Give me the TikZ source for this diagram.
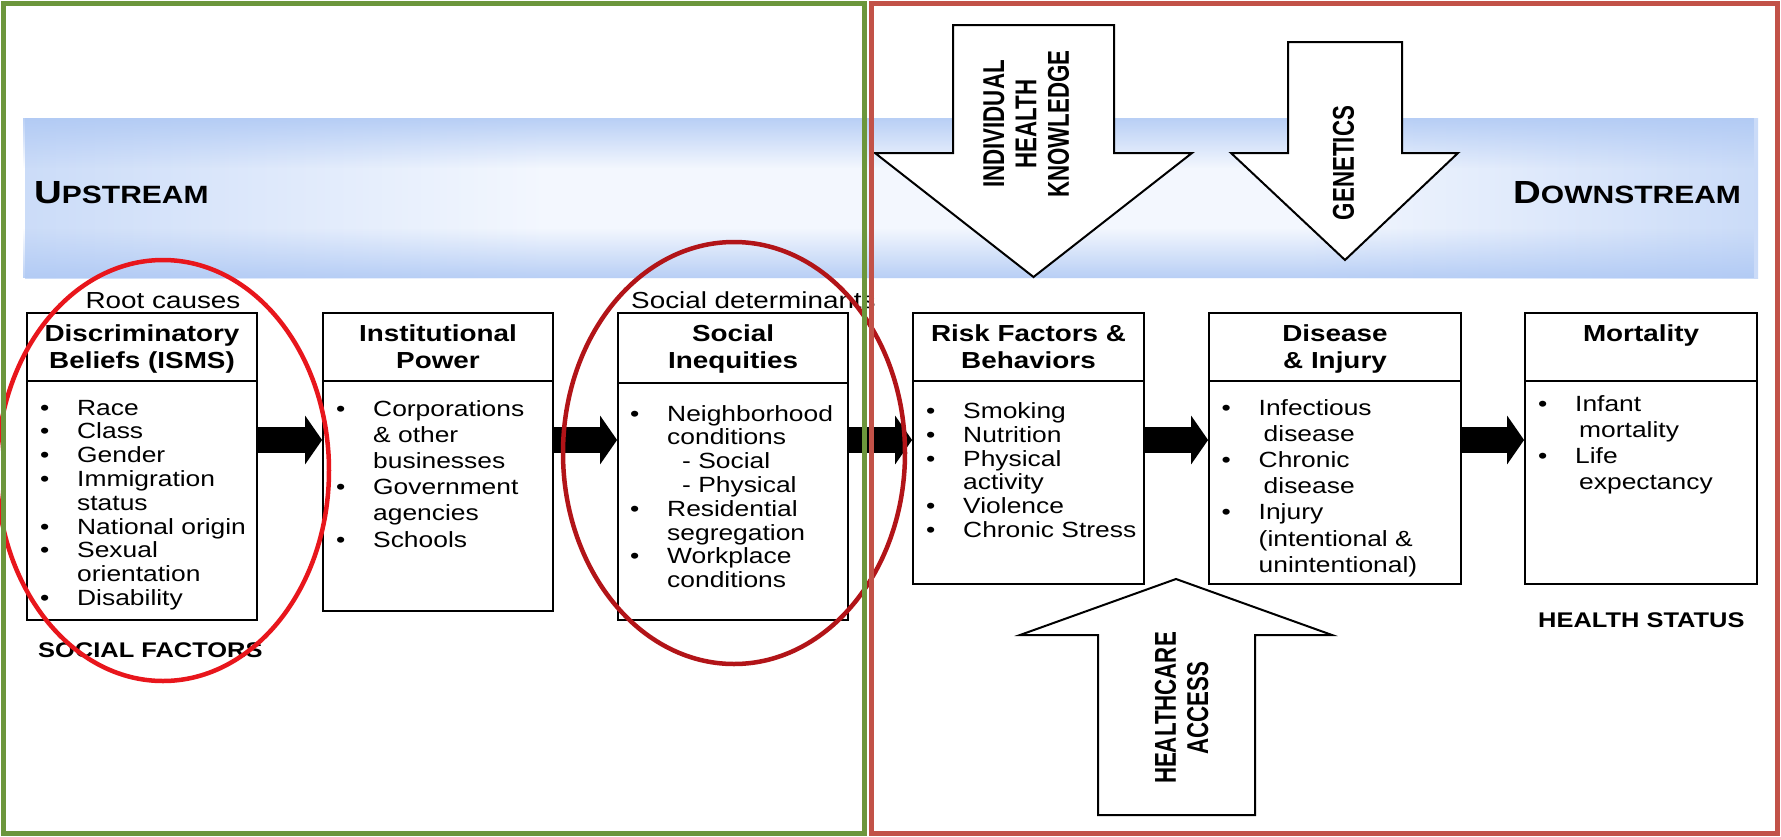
\documentclass[tikz,border=0pt]{standalone}
\usepackage{fontspec}
\setmainfont{Liberation Sans}[FakeStretch=1.2]
\newfontfamily\rotfont{Liberation Sans}
\usetikzlibrary{arrows.meta,fadings}
\definecolor{bandblue}{RGB}{174,200,244}
\definecolor{bandlight}{RGB}{243,247,254}
\definecolor{framegreen}{RGB}{108,150,60}
\definecolor{framered}{RGB}{194,82,72}
\definecolor{ringred}{RGB}{232,22,28}
\definecolor{ringdark}{RGB}{178,20,24}
\pgfdeclarehorizontalshading{bandh}{100bp}{color(0bp)=(bandblue); color(14bp)=(bandblue); color(40bp)=(bandlight); color(62bp)=(bandlight); color(84bp)=(bandblue); color(100bp)=(bandblue)}
\newcommand\bl{\makebox[37pt][l]{\textbullet}}
\newcommand\ind{\hspace*{37pt}}
\begin{document}
\begin{tikzpicture}[x=1pt,y=-1pt,
  box/.style={draw=black, line width=1.8pt, fill=white, inner sep=0pt},
  divline/.style={draw=black, line width=1.8pt},
  hdr/.style={font=\bfseries\fontsize{23.2}{27}\selectfont, inner sep=0pt, anchor=base},
  bodyA/.style={font=\fontsize{22}{23.8}\selectfont, inner sep=0pt, anchor=base west},
  bodyB/.style={font=\fontsize{22}{26.2}\selectfont, inner sep=0pt, anchor=base west},
  lbl/.style={font=\fontsize{23.2}{27}\selectfont, inner sep=0pt},
  captext/.style={font=\bfseries\fontsize{21.2}{24}\selectfont, inner sep=0pt, anchor=base west},
  rotlbl/.style={font=\rotfont\bfseries\fontsize{22.3}{24}\selectfont, inner sep=0pt, rotate=90},
  flow/.style={line width=26pt, -{Triangle[length=17pt,width=48pt]}},
  blockarrow/.style={draw=black, line width=2pt, fill=white, line join=miter},
  ring/.style={line width=4.5pt}
]
\useasboundingbox (0,0) rectangle (1781,836);
\fill[white] (0,0) rectangle (1781,836);

% band
\shade[shading=bandh] (25,118) rectangle (1758,278);
\fill[bandblue, path fading=south, opacity=0.85] (25,118) rectangle (1758,168);
\fill[bandblue, path fading=north, opacity=0.85] (25,228) rectangle (1758,278);
\node[font=\bfseries, inner sep=0pt, anchor=base west] (up) at (34,203)
  {{\fontsize{32}{32}\selectfont U}{\fontsize{25}{25}\selectfont PSTREAM}};
\node[font=\bfseries, inner sep=0pt, anchor=base west] (down) at (1513,203)
  {{\fontsize{32}{32}\selectfont D}{\fontsize{25}{25}\selectfont OWNSTREAM}};

% block arrows
\draw[blockarrow] (953,25) -- (1114,25) -- (1114,153) -- (1192,153) -- (1033.5,277) -- (875,153) -- (953,153) -- cycle;
\draw[blockarrow] (1288,42) -- (1402,42) -- (1402,153) -- (1458,153) -- (1345,260) -- (1231,153) -- (1288,153) -- cycle;
\draw[blockarrow] (1098,815) -- (1255,815) -- (1255,635) -- (1332,635) -- (1176,579) -- (1020,635) -- (1098,635) -- cycle;
\node[rotlbl] (ihk) at (1030,124) {\scalebox{1}[1.35]{\begin{tabular}{@{}c@{}}INDIVIDUAL\\HEALTH\\KNOWLEDGE\end{tabular}}};
\node[rotlbl] (gen) at (1343.5,163) {\scalebox{1}[1.35]{GENETICS}};
\node[rotlbl] (hca) at (1185.5,708) {\scalebox{1}[1.35]{\begin{tabular}{@{}c@{}}HEALTHCARE\\ACCESS\end{tabular}}};

% boxes
\node[box, minimum width=230pt, minimum height=307pt] (b1) at (142,466.5) {};
\node[box, minimum width=230pt, minimum height=298pt] (b2) at (438,462) {};
\node[box, minimum width=230pt, minimum height=307pt] (b3) at (733,466.5) {};
\node[box, minimum width=231pt, minimum height=271pt] (b4) at (1028.5,448.5) {};
\node[box, minimum width=252pt, minimum height=271pt] (b5) at (1335,448.5) {};
\node[box, minimum width=232pt, minimum height=271pt] (b6) at (1641,448.5) {};
\draw[divline] (b1.west |- 0,381) -- (b1.east |- 0,381);
\draw[divline] (b2.west |- 0,381) -- (b2.east |- 0,381);
\draw[divline] (b3.west |- 0,383) -- (b3.east |- 0,383);
\draw[divline] (b4.west |- 0,381) -- (b4.east |- 0,381);
\draw[divline] (b5.west |- 0,381) -- (b5.east |- 0,381);
\draw[divline] (b6.west |- 0,381) -- (b6.east |- 0,381);

\node[hdr] (h1) at (b1.north |- 0,341.5) {\begin{tabular}[t]{@{}c@{}}Discriminatory\\Beliefs (ISMS)\end{tabular}};
\node[hdr] (h2) at (b2.north |- 0,341.5) {\begin{tabular}[t]{@{}c@{}}Institutional\\Power\end{tabular}};
\node[hdr] (h3) at (b3.north |- 0,341.5) {\begin{tabular}[t]{@{}c@{}}Social\\Inequities\end{tabular}};
\node[hdr] (h4) at (b4.north |- 0,341.5) {\begin{tabular}[t]{@{}c@{}}Risk Factors \&\\Behaviors\end{tabular}};
\node[hdr] (h5) at (b5.north |- 0,341.5) {\begin{tabular}[t]{@{}c@{}}Disease\\\& Injury\end{tabular}};
\node[hdr] (h6) at (b6.north |- 0,341.5) {Mortality};

\node[bodyA] (l1) at (40,415) {\begin{tabular}[t]{@{}l@{}}\bl Race\\\bl Class\\\bl Gender\\\bl Immigration\\\ind status\\\bl National origin\\\bl Sexual\\\ind orientation\\\bl Disability\end{tabular}};
\node[bodyB] (l2) at (336,416) {\begin{tabular}[t]{@{}l@{}}\bl Corporations\\\ind \& other\\\ind businesses\\\bl Government\\\ind agencies\\\bl Schools\end{tabular}};
\node[bodyA] (l3) at (630,421) {\begin{tabular}[t]{@{}l@{}}\bl Neighborhood\\\ind conditions\\\ind\hspace*{15pt}- Social\\\ind\hspace*{15pt}- Physical\\\bl Residential\\\ind segregation\\\bl Workplace\\\ind conditions\end{tabular}};
\node[bodyA] (l4) at (926,418.5) {\begin{tabular}[t]{@{}l@{}}\bl Smoking\\\bl Nutrition\\\bl Physical\\\ind activity\\\bl Violence\\\bl Chronic Stress\end{tabular}};
\node[bodyB] (l5) at (1221.5,415) {\begin{tabular}[t]{@{}l@{}}\bl Infectious\\\ind\hspace*{5pt}disease\\\bl Chronic\\\ind\hspace*{5pt}disease\\\bl Injury\\\ind (intentional \&\\\ind unintentional)\end{tabular}};
\node[bodyB] (l6) at (1538,411) {\begin{tabular}[t]{@{}l@{}}\bl Infant\\\ind\hspace*{4pt}mortality\\\bl Life\\\ind\hspace*{4pt}expectancy\end{tabular}};

% flow arrows
\coordinate (ay) at (0,440);
\draw[flow] (b1.east |- ay) -- (b2.west |- ay);
\draw[flow] (b2.east |- ay) -- (b3.west |- ay);
\draw[flow] (b3.east |- ay) -- (b4.west |- ay);
\draw[flow] (b4.east |- ay) -- (b5.west |- ay);
\draw[flow] (b5.east |- ay) -- (b6.west |- ay);

% labels
\node[lbl, anchor=base] (rc) at (163,308) {Root causes};
\node[lbl, anchor=base west] (sd) at (631,308) {Social determinants};
\node[captext] (sf) at (38,657) {SOCIAL FACTORS};
\node[captext] (hs) at (1538,627.5) {HEALTH STATUS};

% rings
\draw[ring, ringred] (163,470.5) ellipse [x radius=166pt, y radius=210.5pt];
\draw[ring, ringdark] (734,453) ellipse [x radius=171pt, y radius=211pt];

% frames
\draw[framegreen, line width=5pt] (3,3) rectangle (864,833);
\draw[framered, line width=5pt] (871,3) rectangle (1777,833);
\end{tikzpicture}
\end{document}
